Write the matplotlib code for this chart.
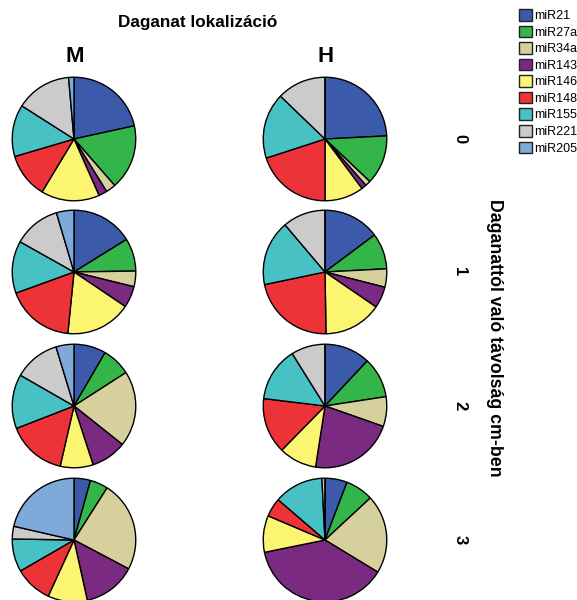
import matplotlib.pyplot as plt
from matplotlib.patches import Patch

plt.rcParams['font.family'] = ['Liberation Sans', 'DejaVu Sans']

# adatok: miRNS arányok (%) daganat lokalizáció (M / H) és távolság (0-3 cm) szerint
mirnas = ["miR21", "miR27a", "miR34a", "miR143", "miR146", "miR148", "miR155", "miR221", "miR205"]
colors = ["#3C5AAA", "#33B54A", "#D5D09C", "#7B2A82", "#FBF572",
          "#EE3338", "#48C1C5", "#CBCBCB", "#7DAAD8"]

M0 = [21.6, 17.0, 2.6, 2.2, 15.3, 11.8, 13.6, 14.6, 1.4]
M1 = [16.2, 8.6, 4.1, 5.6, 17.2, 17.9, 13.7, 12.3, 4.6]
M2 = [8.4, 7.5, 19.8, 9.3, 8.6, 15.5, 14.2, 12.0, 4.7]
M3 = [4.3, 4.7, 23.7, 13.8, 10.3, 9.8, 8.6, 3.3, 21.4]

H0 = [24.2, 12.9, 1.4, 1.3, 10.2, 20.0, 17.2, 12.8, 0.0]
H1 = [14.8, 9.4, 4.8, 5.6, 15.2, 22.0, 17.1, 11.2, 0.0]
H2 = [12.0, 10.6, 7.8, 22.1, 9.9, 14.6, 14.2, 8.9, 0.0]
H3 = [5.8, 7.3, 20.6, 38.1, 9.6, 4.9, 12.9, 0.8, 0.0]

columns = ["M", "H"]
distances = ["0", "1", "2", "3"]
pies = [[M0, H0], [M1, H1], [M2, H2], [M3, H3]]

W, H = 577, 600
fig = plt.figure(figsize=(W / 100, H / 100), dpi=100)

col_x = [74, 325]          # pie középpontok (px)
row_y = [139, 272, 406, 540]
r = 63

for i, row in enumerate(pies):
    for j, vals in enumerate(row):
        cx, cy = col_x[j], row_y[i]
        ax = fig.add_axes([(cx - r) / W, 1 - (cy + r) / H, 2 * r / W, 2 * r / H])
        ax.pie(vals, colors=colors, startangle=90, counterclock=False, radius=1,
               wedgeprops=dict(edgecolor="black", linewidth=1.0))
        ax.set_xlim(-1.02, 1.02)
        ax.set_ylim(-1.02, 1.02)
        ax.set_aspect("equal")
        ax.axis("off")

fig.text(198 / W, 1 - 22 / H, "Daganat lokalizáció", ha="center", va="center",
         fontsize=12.3, fontweight="bold")
for j, c in enumerate(columns):
    fig.text((col_x[j] + 1) / W, 1 - 57 / H, c, ha="center", va="center",
             fontsize=16, fontweight="bold")

for i, d in enumerate(distances):
    fig.text(460 / W, 1 - row_y[i] / H, d, ha="center", va="center",
             fontsize=12, fontweight="bold", rotation=-90)
fig.text(495 / W, 1 - 338 / H, "Daganattól való távolság cm-ben", ha="center",
         va="center", fontsize=12.8, fontweight="bold", rotation=-90)

handles = [Patch(facecolor=c, edgecolor="#222222", linewidth=1.0) for c in colors]
fig.legend(handles, mirnas, loc="upper left", bbox_to_anchor=(514 / W, 1 - 4 / H),
           frameon=False, fontsize=9, handlelength=1.0, handleheight=1.05,
           handletextpad=0.2, labelspacing=0.28, borderaxespad=0)

fig.savefig("out.png", dpi=100)
